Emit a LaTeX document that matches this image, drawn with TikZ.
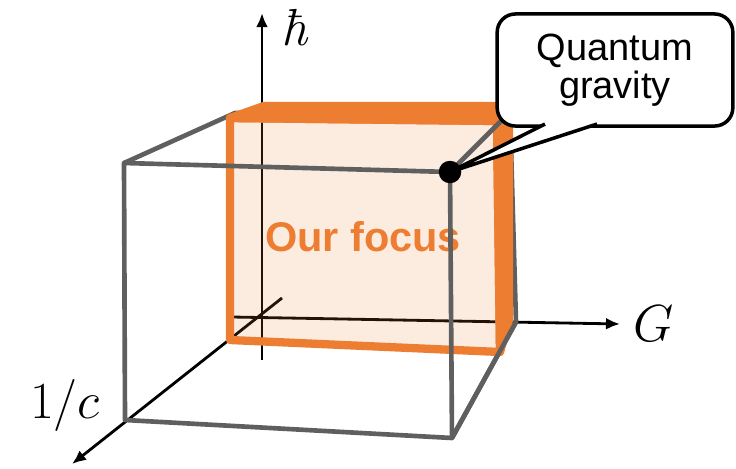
\documentclass[tikz,border=0pt]{standalone}
\usepackage{fontspec}
\newfontfamily\calloutfont{Liberation Sans}
\usepackage{tikz}
\usetikzlibrary{arrows.meta,positioning}
\definecolor{focusOrange}{RGB}{237,125,49}
\definecolor{cubeGray}{RGB}{95,95,95}

\begin{document}
\begin{tikzpicture}[x=0.025cm, y=-0.025cm, line join=round]
    \tikzstyle{axisArrow} = [draw, -{Latex[length=10pt,width=8.5pt]}, line width=2pt, black]
    \tikzstyle{cubeEdge} = [draw, cubeGray, line width=3.3pt]
    \tikzstyle{axisLabel} = [inner sep=0pt, font=\Huge, scale=1.49]
    \tikzstyle{orangeFace} = [draw=focusOrange, fill=focusOrange, line width=5.9pt]
    \useasboundingbox (0,0) rectangle (736,468);

    % axes
    \coordinate (hbarStart) at (262,360);
    \coordinate (hbarEnd) at (262,13);
    \coordinate (gStart) at (232,317);
    \coordinate (gEnd) at (620,324);
    \coordinate (cStart) at (282,298);
    \coordinate (cEnd) at (72,464);
    \path [axisArrow] (hbarStart) -- (hbarEnd);
    \path [axisArrow] (gStart) -- (gEnd);
    \path [axisArrow] (cStart) -- (cEnd);

    % gray cube
    \coordinate (ftl) at (124,163);
    \coordinate (ftr) at (450,172);
    \coordinate (fbr) at (452,438);
    \coordinate (fbl) at (125,420);
    \coordinate (btl) at (235,113);
    \coordinate (btr) at (510,112);
    \coordinate (bbr) at (516,322);
    \path [cubeEdge] (ftl) -- (btl) -- (btr) -- (bbr) -- (fbr);

    % orange box
    \coordinate (oTL) at (230,118);
    \coordinate (oTR) at (497,121);
    \coordinate (oBR) at (500,352);
    \coordinate (oBL) at (230,340);
    \coordinate (oBTL) at (264,106);
    \coordinate (oBTR) at (509,106);
    \coordinate (oBBR) at (509,320);
    \path [orangeFace] (oTL) -- (oBTL) -- (oBTR) -- (oTR) -- cycle;
    \path [orangeFace] (oTR) -- (oBTR) -- (oBBR) -- (oBR) -- cycle;
    \path [orangeFace, fill opacity=0.15] (oTL) -- (oTR) -- (oBR) -- (oBL) -- cycle;
    \node [text=focusOrange, font=\calloutfont\bfseries\fontsize{29.5}{30}\selectfont] (focus) at (363,237) {Our focus};

    \path [cubeEdge] (ftl) -- (ftr) -- (fbr) -- (fbl) -- cycle;
    \path [cubeEdge] (ftr) -- (btr);
    \path [cubeEdge] (fbr) -- (bbr);

    % callout
    \node [draw, fill=white, line width=2.5pt, rounded corners=13pt, outer sep=0pt, minimum width=167.6pt, minimum height=79.7pt, align=center, font=\calloutfont\fontsize{27}{27}\selectfont] (qgBox) at (615,70) {Quantum\\gravity};
    \filldraw [fill=white, draw=black, line width=2.5pt] ([shift={(-70,-2)}]qgBox.south) -- (ftr) -- ([shift={(-18,-2)}]qgBox.south);
    \node [circle, fill=black, inner sep=0pt, minimum size=16pt] (qgPoint) at (ftr) {};

    \node [axisLabel] (hbarLabel) at (295,28) {\itshape ħ};
    \node [axisLabel, right=9pt of gEnd] (gLabel) {$G$};
    \node [axisLabel] (cLabel) at (65,405) {$1/c$};
\end{tikzpicture}
\end{document}
